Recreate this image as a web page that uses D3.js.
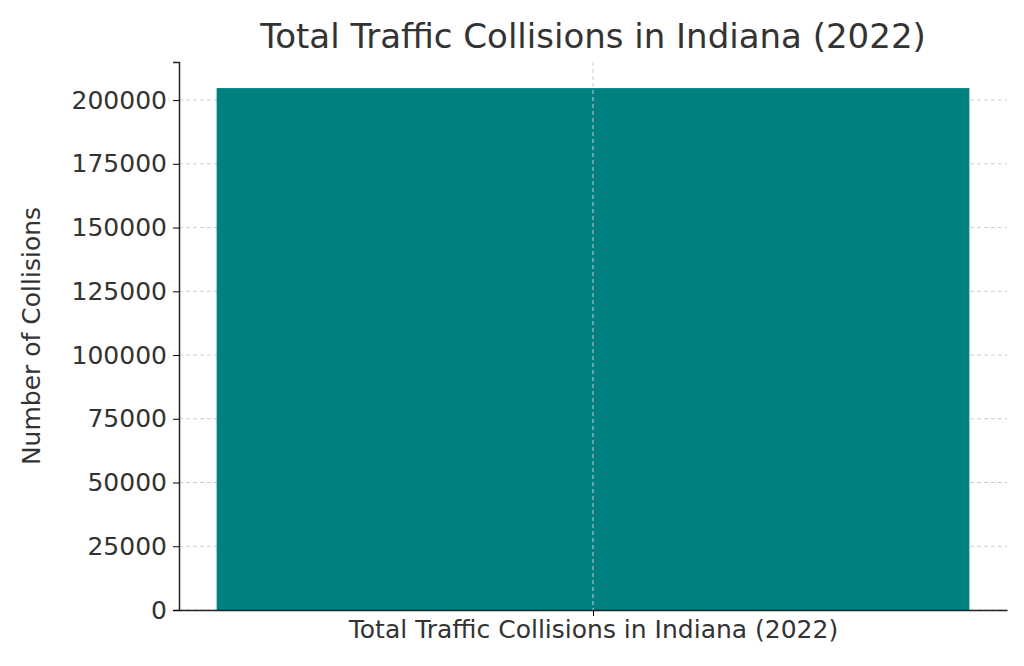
<!DOCTYPE html>
<html><head><meta charset="utf-8">
<script src="https://cdn.jsdelivr.net/npm/d3@7"></script>
<style>body{margin:0;background:#fff}text{font-family:"DejaVu Sans",sans-serif;fill:#333}</style>
</head><body><svg id="c" width="1024" height="666"></svg>
<script>
const categories = ['Total Traffic Collisions in Indiana (2022)']
const values = [204700]
const yTicks = [0, 25000, 50000, 75000, 100000, 125000, 150000, 175000, 200000]

const svg = d3.select('#c')
const m = {left: 179, right: 1007, top: 62, bottom: 610}
const y = d3.scaleLinear().domain([0, 204700 * 1.05]).range([m.bottom, m.top])
const x = d3.scaleLinear().domain([-0.44, 0.44]).range([m.left, m.right])

// grid
svg.append('g').selectAll('line').data(yTicks).join('line')
  .attr('x1', m.left).attr('x2', m.right)
  .attr('y1', d => y(d)).attr('y2', d => y(d))
  .attr('stroke', '#ccc').attr('stroke-dasharray', '4,3')

// bars
svg.append('g').selectAll('rect').data(values).join('rect')
  .attr('x', (d, i) => x(i - 0.4)).attr('width', (d, i) => x(i + 0.4) - x(i - 0.4))
  .attr('y', d => y(d)).attr('height', d => m.bottom - y(d))
  .attr('fill', '#008080')

// vertical grid over bar
svg.append('g').selectAll('line').data(categories).join('line')
  .attr('x1', (d, i) => x(i)).attr('x2', (d, i) => x(i))
  .attr('y1', m.top).attr('y2', m.bottom)
  .attr('stroke', '#ccc').attr('stroke-dasharray', '4,3')

// y axis
const ya = svg.append('g').attr('transform', `translate(${m.left},0)`)
  .call(d3.axisLeft(y).tickValues(yTicks).tickFormat(d3.format('d')).tickSize(6).tickPadding(6))
ya.select('.domain').attr('stroke', '#222').attr('stroke-width', 1.5)
ya.selectAll('text').style('font-size', '25px').attr('fill', '#333')

// x axis
const xa = svg.append('g').attr('transform', `translate(0,${m.bottom})`)
  .call(d3.axisBottom(x).tickValues([0]).tickFormat((d, i) => categories[i]).tickSize(6).tickPadding(4).tickSizeOuter(0))
xa.select('.domain').attr('stroke', '#222').attr('stroke-width', 1.5)
xa.selectAll('text').style('font-size', '25px').attr('fill', '#333')

svg.append('text').attr('x', 593).attr('y', 48).attr('text-anchor', 'middle')
  .style('font-size', '34px').text('Total Traffic Collisions in Indiana (2022)')
svg.append('text').attr('transform', 'translate(40,336) rotate(-90)')
  .attr('text-anchor', 'middle').style('font-size', '25px').text('Number of Collisions')
</script></body></html>
